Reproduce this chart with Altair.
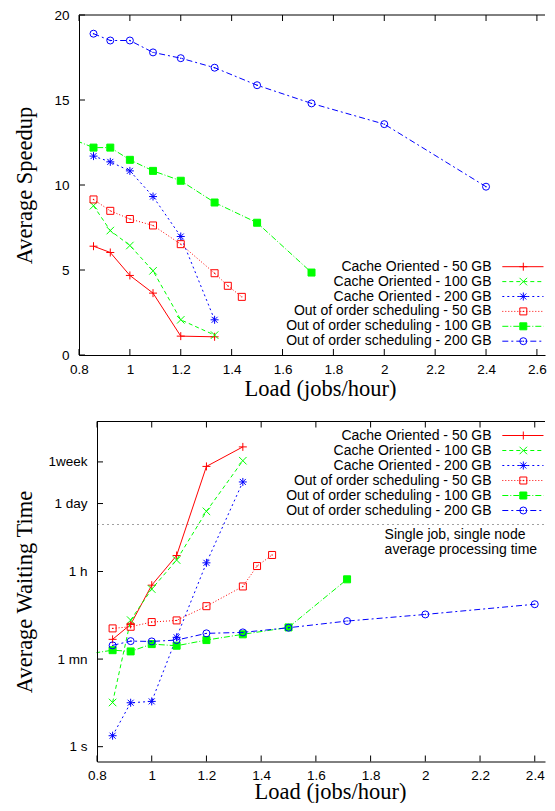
import altair as alt
import pandas as pd

# ---------------- data ----------------
names = [
    "Cache Oriented - 50 GB",
    "Cache Oriented - 100 GB",
    "Cache Oriented - 200 GB",
    "Out of order scheduling - 50 GB",
    "Out of order scheduling - 100 GB",
    "Out of order scheduling - 200 GB",
]

load_cache = [0.857, 0.923, 1.0, 1.091, 1.2, 1.333]
load_ooo50 = [0.857, 0.923, 1.0, 1.091, 1.2, 1.333, 1.385, 1.44]
load_ooo100 = [0.75, 0.857, 0.923, 1.0, 1.091, 1.2, 1.333, 1.5, 1.714]
load_ooo200 = [0.857, 0.923, 1.0, 1.091, 1.2, 1.333, 1.5, 1.714, 2.0, 2.4]

speed_cache50 = [6.4, 6.03, 4.68, 3.64, 1.11, 1.07]
speed_cache100 = [8.78, 7.32, 6.44, 4.95, 2.07, 1.17]
speed_cache200 = [11.7, 11.36, 10.83, 9.32, 6.97, 2.07]
speed_ooo50 = [9.15, 8.48, 8.0, 7.62, 6.52, 4.81, 4.07, 3.42]
speed_ooo100 = [12.84, 12.2, 12.2, 11.48, 10.83, 10.25, 8.97, 7.78, 4.85]
speed_ooo200 = [18.9, 18.5, 18.5, 17.8, 17.46, 16.9, 15.87, 14.8, 13.58, 9.9]

# waiting time in seconds
wait_cache50 = [151, 303, 1900, 7600, 490000, 1220000]
wait_cache100 = [7.9, 371, 1585, 6150, 60000, 640000]
wait_cache200 = [1.67, 7.8, 8.3, 166, 5400, 237000]
wait_ooo50 = [252, 272, 339, 366, 712, 1790, 4650, 7800]
wait_ooo100 = [74, 91, 86, 121, 112, 146, 191, 264, 2500]
wait_ooo200 = [114, 139, 137, 146, 200, 209, 260, 355, 484, 780]

single_job_time = [32400]
annotation = ["Single job, single node", "average processing time"]

x_ticks_top = [0.8, 1.0, 1.2, 1.4, 1.6, 1.8, 2.0, 2.2, 2.4, 2.6]
x_ticks_bottom = [0.8, 1.0, 1.2, 1.4, 1.6, 1.8, 2.0, 2.2, 2.4]
y_ticks_top = [0, 5, 10, 15, 20]
y_ticks_bottom = [1, 60, 3600, 86400, 604800]
y_labels_bottom = ["1 s", "1 mn", "1 h", "1 day", "1week"]

# ---------------- styles ----------------
PLUS = "M-1,0L1,0M0,-1L0,1"
CROSS = "M-1,-1L1,1M-1,1L1,-1"
STAR = "M-1,0L1,0M0,-1L0,1M-0.75,-0.75L0.75,0.75M-0.75,0.75L0.75,-0.75"
colors = ["#ff0000", "#00ff00", "#0000ff", "#ff0000", "#00ff00", "#0000ff"]
dashes = [None, [4, 3], [2, 3], [1, 2], [6, 2, 1, 2], [6, 3, 2, 3]]
shapes = [PLUS, CROSS, STAR, "square", "square", "circle"]
filled = [False, False, False, False, True, False]
center_dot = [False, False, False, True, False, True]
sizes = [64, 56, 64, 49, 49, 49]

SANS = "Liberation Sans"
SERIF = "Liberation Serif"
W = 466          # plot width shared by both panels (right edge)
SHIFT = 18       # bottom panel axis sits further right
EXT = 43         # left axis extent (positions the y titles)


def axis_common(**kw):
    base = dict(
        ticks=False, tickSize=0, grid=False, domain=True, domainColor="black",
        domainWidth=1, labelFont=SANS, labelFontSize=13.5, labelColor="black",
        labelFlush=False, labelOverlap=False, labelBound=False, zindex=1,
        titleFont=SERIF, titleFontSize=22.5, titleFontWeight="normal", titleColor="black",
    )
    base.update(kw)
    return alt.Axis(**base)


def point_kw(i):
    kw = dict(shape=shapes[i], size=sizes[i], strokeWidth=1, opacity=1)
    if filled[i]:
        kw.update(filled=True, fill=colors[i], stroke=colors[i])
    else:
        kw.update(filled=False, stroke=colors[i])
    return kw


def dot_kw(i):
    return dict(shape="circle", size=2, filled=True, fill=colors[i], strokeWidth=0, opacity=1)


def build_panel(loads, values, xscale, yscale, xaxis, yaxis, H, x0,
                xticks, yticks, ly0, ldy, extra=None):
    def X():
        return alt.X("load:Q", scale=xscale, axis=xaxis)

    def Y():
        return alt.Y("v:Q", scale=yscale, axis=yaxis)

    one = pd.DataFrame({"a": [0]})
    layers = []
    if extra:
        layers.extend(extra(X, Y))
    # series
    for i in range(6):
        df = pd.DataFrame({"load": loads[i], "v": values[i]})
        lkw = dict(color=colors[i], strokeWidth=1, clip=True)
        if dashes[i]:
            lkw["strokeDash"] = dashes[i]
        layers.append(alt.Chart(df).mark_line(**lkw).encode(x=X(), y=Y()))
        layers.append(alt.Chart(df).mark_point(clip=True, **point_kw(i)).encode(x=X(), y=Y()))
        if center_dot[i]:
            layers.append(alt.Chart(df).mark_point(clip=True, **dot_kw(i)).encode(x=X(), y=Y()))
    # mask anything left of the axis
    if x0 > 0:
        layers.append(alt.Chart(one).mark_rect(color="white").encode(
            x=alt.value(0), x2=alt.value(x0 - 0.5), y=alt.value(-1), y2=alt.value(H + 1)))
    # top border
    layers.append(alt.Chart(one).mark_rule(color="black", strokeWidth=1).encode(
        x=alt.value(x0), x2=alt.value(W), y=alt.value(0)))
    # inward ticks
    tdf = pd.DataFrame({"load": xticks})
    layers.append(alt.Chart(tdf).mark_rule(color="black", strokeWidth=1).encode(
        x=X(), y=alt.value(H), y2=alt.value(H - 6)))
    layers.append(alt.Chart(tdf).mark_rule(color="black", strokeWidth=1).encode(
        x=X(), y=alt.value(0), y2=alt.value(6)))
    ydf = pd.DataFrame({"v": yticks})
    layers.append(alt.Chart(ydf).mark_rule(color="black", strokeWidth=1).encode(
        y=Y(), x=alt.value(x0), x2=alt.value(x0 + 6)))
    # legend
    for i in range(6):
        yy = ly0 + i * ldy
        ldf = pd.DataFrame({"label": [names[i]]})
        layers.append(alt.Chart(ldf).mark_text(
            align="right", baseline="middle", font=SANS, fontSize=14, color="black"
        ).encode(x=alt.value(W - 53.4), y=alt.value(yy), text="label:N"))
        rkw = dict(color=colors[i], strokeWidth=1)
        if dashes[i]:
            rkw["strokeDash"] = dashes[i]
        layers.append(alt.Chart(ldf).mark_rule(**rkw).encode(
            x=alt.value(W - 42.7), x2=alt.value(W - 1.5), y=alt.value(yy)))
        layers.append(alt.Chart(ldf).mark_point(**point_kw(i)).encode(
            x=alt.value(W - 21.7), y=alt.value(yy)))
        if center_dot[i]:
            layers.append(alt.Chart(ldf).mark_point(**dot_kw(i)).encode(
                x=alt.value(W - 21.7), y=alt.value(yy)))
    return alt.layer(*layers).properties(width=W, height=H)


# ---------------- top panel ----------------
H1 = 340
top = build_panel(
    [load_cache, load_cache, load_cache, load_ooo50, load_ooo100, load_ooo200],
    [speed_cache50, speed_cache100, speed_cache200, speed_ooo50, speed_ooo100, speed_ooo200],
    alt.Scale(domain=[0.8, 0.8 + W / 254.4], nice=False, zero=False),
    alt.Scale(domain=[0, 20], nice=False, zero=False),
    axis_common(values=x_ticks_top, format="~g", title="Load (jobs/hour)",
                labelPadding=7, titlePadding=2, titleX=241),
    axis_common(values=y_ticks_top, title="Average Speedup", labelPadding=10,
                titlePadding=0, minExtent=EXT, maxExtent=EXT),
    H1, 0, x_ticks_top, y_ticks_top, 251.7, 14.9,
)

# ---------------- bottom panel ----------------
H2 = 340
label_expr = ""
for v, lab in zip(y_ticks_bottom, y_labels_bottom):
    label_expr += f"datum.value == {v} ? '{lab}' : "
label_expr += "''"


def bottom_extra(X, Y):
    th = pd.DataFrame({"v": single_job_time})
    out = [alt.Chart(th).mark_rule(color="#a0a0a0", strokeWidth=1, strokeDash=[2, 3]).encode(
        y=Y(), x=alt.value(SHIFT), x2=alt.value(W))]
    for k, line in enumerate(annotation):
        adf = pd.DataFrame({"t": [line]})
        out.append(alt.Chart(adf).mark_text(
            align="left", baseline="middle", font=SANS, fontSize=14, color="black"
        ).encode(x=alt.value(305.6), y=alt.value(113 + 15.5 * k), text="t:N"))
    return out


bottom = build_panel(
    [load_cache, load_cache, load_cache, load_ooo50, load_ooo100, load_ooo200],
    [wait_cache50, wait_cache100, wait_cache200, wait_ooo50, wait_ooo100, wait_ooo200],
    alt.Scale(domain=[0.8, 0.8 + (W - SHIFT) / 273.6], range=[SHIFT, W], nice=False, zero=False),
    alt.Scale(type="log", domain=[0.5, 4000000], nice=False),
    axis_common(values=x_ticks_bottom, format="~g", title="Load (jobs/hour)",
                labelPadding=7, titlePadding=-2, titleX=251),
    axis_common(values=y_ticks_bottom, labelExpr=label_expr, title="Average Waiting Time",
                labelPadding=10, titlePadding=0, minExtent=EXT + SHIFT, maxExtent=EXT + SHIFT,
                offset=-SHIFT),
    H2, SHIFT, x_ticks_bottom, y_ticks_bottom, 14, 15, extra=bottom_extra,
)

chart = alt.vconcat(top, bottom, spacing=20.5).properties(
    padding={"left": 5, "top": 0, "right": 0, "bottom": 0}
).configure_view(stroke=None)

chart.save("out.html", embed_options={"renderer": "svg", "actions": False})
